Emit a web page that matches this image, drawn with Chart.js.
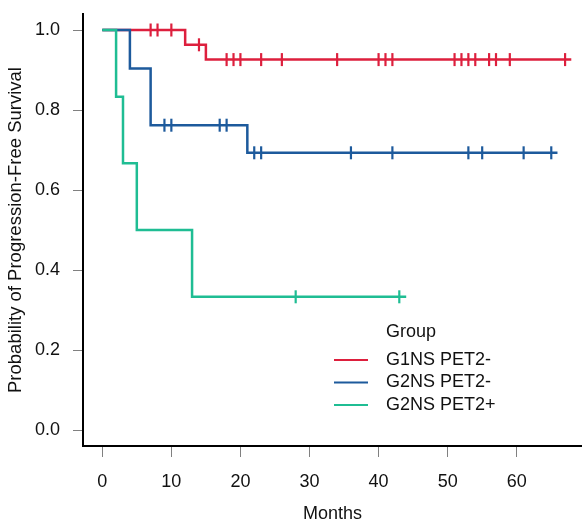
<!DOCTYPE html>
<html>
<head>
<meta charset="utf-8">
<script src="https://cdn.jsdelivr.net/npm/chart.js@4.4.1/dist/chart.umd.min.js"></script>
<style>
  body { margin: 0; background: #fff; }
  #wrap { width: 582px; height: 523px; }
</style>
</head>
<body>
<div id="wrap"><canvas id="km" width="582" height="523"></canvas></div>
<script>
// groups, in legend order
const groups = ['G1NS PET2-', 'G2NS PET2-', 'G2NS PET2+'];
const colors = ['#dd1f3d', '#1d5a9c', '#1fbd93'];

// event times (months) and survival after each step
const redTimes = [0, 12, 15];
const redSurv = [1, 0.963, 0.926];
const redCensor = [7, 8, 10, 14, 18, 19, 20, 23, 26, 34, 40, 41, 42, 51, 52, 53, 54, 56, 57, 59, 67];
const redEnd = 67.9;

const blueTimes = [0, 4, 7, 21];
const blueSurv = [1, 0.904, 0.762, 0.693];
const blueCensor = [9, 10, 17, 18, 22, 23, 36, 42, 53, 55, 61, 65];
const blueEnd = 65.9;

const greenTimes = [0, 2, 3, 5, 13];
const greenSurv = [1, 0.833, 0.667, 0.5, 0.333];
const greenCensor = [28, 43];
const greenEnd = 44;

const xTicks = [0, 10, 20, 30, 40, 50, 60];
const yTicks = [0, 0.2, 0.4, 0.6, 0.8, 1.0];

const FONT = '"Liberation Sans", Arial, sans-serif';

function curve(times, surv, end) {
  const pts = times.map((t, i) => ({x: t, y: surv[i]}));
  pts.push({x: end, y: surv[surv.length - 1]});
  return pts;
}
function survAt(times, surv, t) {
  let s = surv[0];
  for (let i = 0; i < times.length; i++) if (times[i] <= t) s = surv[i];
  return s;
}
function marks(times, surv, cens) {
  return cens.map(t => ({x: t, y: survAt(times, surv, t)}));
}

const sets = [
  [redTimes, redSurv, redCensor, redEnd, 3],
  [blueTimes, blueSurv, blueCensor, blueEnd, 2],
  [greenTimes, greenSurv, greenCensor, greenEnd, 1]
];

const datasets = [];
sets.forEach((s, i) => {
  datasets.push({
    type: 'line',
    label: groups[i],
    data: curve(s[0], s[1], s[3]),
    stepped: 'before',
    borderColor: colors[i],
    borderWidth: 2.5,
    pointRadius: 0,
    fill: false,
    order: s[4]
  });
  datasets.push({
    type: 'scatter',
    label: groups[i] + ' censored',
    data: marks(s[0], s[1], s[2]),
    pointStyle: 'line',
    rotation: 90,
    pointRadius: 6.5,
    pointBorderWidth: 2.2,
    borderColor: colors[i],
    backgroundColor: colors[i],
    order: s[4]
  });
});

// legend drawn inside the plot, like the R one
const groupLegend = {
  id: 'groupLegend',
  afterDraw(chart) {
    const ctx = chart.ctx;
    ctx.save();
    ctx.textBaseline = 'middle';
    ctx.textAlign = 'left';
    ctx.fillStyle = '#111';
    ctx.font = '18px ' + FONT;
    ctx.fillText('Group', 386, 332);
    const rows = [360, 382.5, 405];
    groups.forEach((g, i) => {
      ctx.strokeStyle = colors[i];
      ctx.lineWidth = 2;
      ctx.beginPath();
      ctx.moveTo(334, rows[i]);
      ctx.lineTo(368, rows[i]);
      ctx.stroke();
      ctx.fillStyle = '#111';
      ctx.fillText(g, 386, rows[i]);
    });
    ctx.restore();
  }
};

new Chart(document.getElementById('km'), {
  data: { datasets: datasets },
  plugins: [groupLegend],
  options: {
    responsive: false,
    animation: false,
    layout: { autoPadding: false, padding: { top: 14, right: 0, left: 0, bottom: 0 } },
    plugins: { legend: { display: false }, tooltip: { enabled: false } },
    scales: {
      x: {
        type: 'linear',
        min: -2.79,
        max: 69.45,
        afterBuildTicks: sc => { sc.ticks = xTicks.map(v => ({value: v})); },
        afterFit: sc => { sc.height = 77; sc.paddingLeft = 0; sc.paddingRight = 0; },
        border: { display: true, color: '#000', width: 2 },
        grid: { drawOnChartArea: false, drawTicks: true, tickLength: 11, color: '#808080', lineWidth: 1 },
        ticks: { padding: 14, color: '#111', font: { family: FONT, size: 18 }, maxRotation: 0 },
        title: { display: true, text: 'Months', color: '#111',
                 font: { family: FONT, size: 18, lineHeight: 1 }, padding: { top: 0, bottom: 0 } }
      },
      y: {
        type: 'linear',
        min: -0.04,
        max: 1.04,
        afterBuildTicks: sc => { sc.ticks = yTicks.map(v => ({value: v})); },
        afterFit: sc => { sc.width = 83; sc.paddingTop = 0; sc.paddingBottom = 0; },
        border: { display: true, color: '#000', width: 2 },
        grid: { drawOnChartArea: false, drawTicks: true, tickLength: 10, color: '#808080', lineWidth: 1 },
        ticks: { padding: 13, color: '#111', font: { family: FONT, size: 18 },
                 callback: v => v.toFixed(1) },
        title: { display: true, text: 'Probability of Progression-Free Survival', color: '#111',
                 font: { family: FONT, size: 18.5, lineHeight: 1 }, padding: { top: 7, bottom: 0 } }
      }
    }
  }
});
</script>
</body>
</html>
